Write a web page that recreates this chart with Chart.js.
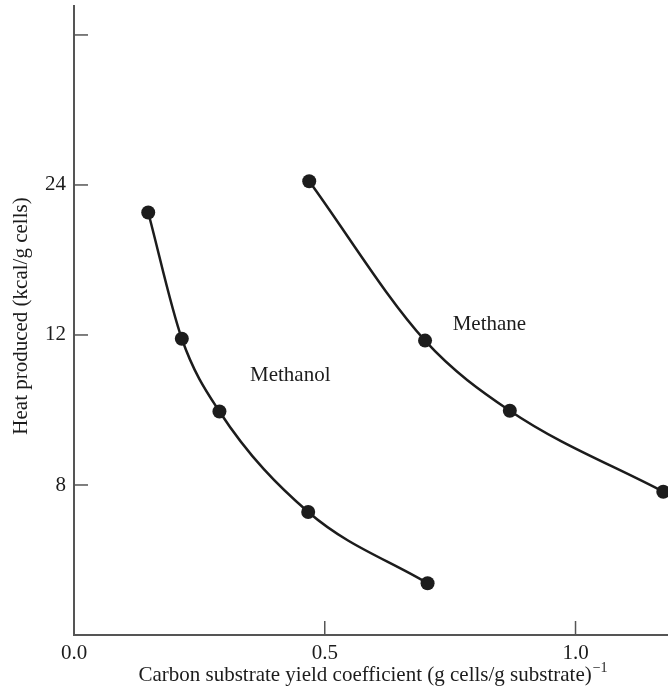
<!DOCTYPE html>
<html lang="en">
<head>
<meta charset="utf-8" />
<title>Heat produced vs carbon substrate yield coefficient</title>
<script src="https://cdn.jsdelivr.net/npm/chart.js@4.4.1/dist/chart.umd.min.js"></script>
<style>
    html, body { margin: 0; padding: 0; background: #fff; }
    #wrap { width: 668px; height: 696px; }
</style>
</head>
<body>
<div id="wrap"><canvas id="chart" width="668" height="696"></canvas></div>
<script>
    // values
    const methanolYield = [0.148, 0.215, 0.290, 0.467, 0.705];
    const methanolHeat = [21.8, 11.9, 9.96, 7.28, 5.38];
    const methaneYield = [0.469, 0.700, 0.869, 1.175];
    const methaneHeat = [24.3, 11.85, 9.98, 7.82];

    // the y axis is not linear: 8, 12 and 24 sit at equal steps
    const yTickValues = [8, 12, 24];
    const yTickLabels = ['8', '12', '24'];
    const xTickValues = [0, 0.5, 1.0];
    const xTickLabels = ['0.0', '0.5', '1.0'];

    const FONT = '"Liberation Serif", "Times New Roman", serif';
    const INK = '#1c1c1c';
    const AXIS = '#555555';

    // heat (kcal/g) -> position on the drawn axis (8 -> 1, 12 -> 2, 24 -> 3)
    function heatToPos(v) {
        const n = yTickValues.length;
        if (v <= yTickValues[0]) {
            return 1 + (v - yTickValues[0]) / (yTickValues[1] - yTickValues[0]);
        }
        for (let i = 0; i < n - 1; i++) {
            if (v <= yTickValues[i + 1]) {
                return 1 + i + (v - yTickValues[i]) / (yTickValues[i + 1] - yTickValues[i]);
            }
        }
        return n + (v - yTickValues[n - 1]) / (yTickValues[n - 1] - yTickValues[n - 2]);
    }

    const toPoints = (xs, ys) => xs.map((x, i) => ({ x: x, y: heatToPos(ys[i]) }));

    const labels = [
        { text: 'Methanol', x: 0.351, heat: 10.77 },
        { text: 'Methane', x: 0.755, heat: 12.4 }
    ];

    // drop the extra room chart.js keeps for edge tick labels
    function noPadding(s) {
        s.paddingTop = 0;
        s.paddingBottom = 0;
        s.paddingLeft = 0;
        s.paddingRight = 0;
    }

    const figurePlugin = {
        id: 'figureBits',
        afterDraw(chart) {
            const ctx = chart.ctx;
            const xs = chart.scales.x, ys = chart.scales.y;
            const area = chart.chartArea;
            ctx.save();

            // inward tick marks
            ctx.strokeStyle = AXIS;
            ctx.lineWidth = 1.5;
            ys.ticks.forEach(t => {
                if (t.value <= 0) return;
                const py = ys.getPixelForValue(t.value);
                ctx.beginPath();
                ctx.moveTo(area.left, py);
                ctx.lineTo(area.left + 14, py);
                ctx.stroke();
            });
            xs.ticks.forEach(t => {
                if (t.value <= 0) return;
                const px = xs.getPixelForValue(t.value);
                ctx.beginPath();
                ctx.moveTo(px, area.bottom);
                ctx.lineTo(px, area.bottom - 14);
                ctx.stroke();
            });

            // curve labels
            ctx.fillStyle = INK;
            ctx.font = '21px ' + FONT;
            ctx.textAlign = 'left';
            ctx.textBaseline = 'alphabetic';
            labels.forEach(l => {
                ctx.fillText(l.text, xs.getPixelForValue(l.x), ys.getPixelForValue(heatToPos(l.heat)));
            });

            // x axis title with superscript
            const main = 'Carbon substrate yield coefficient (g cells/g substrate)';
            const sup = '\u22121';
            ctx.font = '21px ' + FONT;
            const wMain = ctx.measureText(main).width;
            ctx.font = '14px ' + FONT;
            const wSup = ctx.measureText(sup).width;
            const cx = (area.left + area.right) / 2 + 2;
            const startX = cx - (wMain + wSup + 1) / 2;
            ctx.font = '21px ' + FONT;
            ctx.fillText(main, startX, 681);
            ctx.font = '14px ' + FONT;
            ctx.fillText(sup, startX + wMain + 1, 672);

            // y axis title
            ctx.font = '21px ' + FONT;
            ctx.translate(27, 316);
            ctx.rotate(-Math.PI / 2);
            ctx.textAlign = 'center';
            ctx.fillText('Heat produced (kcal/g cells)', 0, 0);

            ctx.restore();
        }
    };

    const dotStyle = {
        borderColor: INK,
        backgroundColor: INK,
        borderWidth: 2.5,
        pointRadius: 7,
        pointHoverRadius: 7,
        pointBackgroundColor: INK,
        pointBorderColor: INK,
        pointBorderWidth: 0,
        showLine: true,
        cubicInterpolationMode: 'monotone',
        clip: false,
        fill: false
    };

    new Chart(document.getElementById('chart'), {
        type: 'scatter',
        data: {
            datasets: [
                Object.assign({ label: 'Methanol', data: toPoints(methanolYield, methanolHeat) }, dotStyle),
                Object.assign({ label: 'Methane', data: toPoints(methaneYield, methaneHeat) }, dotStyle)
            ]
        },
        options: {
            responsive: false,
            animation: false,
            devicePixelRatio: 1,
            layout: { autoPadding: false, padding: { top: 6, right: 0, left: 0, bottom: 0 } },
            plugins: {
                legend: { display: false },
                tooltip: { enabled: false }
            },
            scales: {
                x: {
                    type: 'linear',
                    min: 0,
                    max: 1.1844,
                    grid: { display: false, drawTicks: false },
                    border: { display: true, color: AXIS, width: 2 },
                    afterBuildTicks: s => { s.ticks = xTickValues.map(v => ({ value: v })); },
                    afterFit: s => { s.height = 61; noPadding(s); },
                    ticks: {
                        padding: 6,
                        color: INK,
                        font: { family: FONT, size: 21 },
                        maxRotation: 0,
                        callback: v => xTickLabels[xTickValues.indexOf(v)]
                    }
                },
                y: {
                    type: 'linear',
                    min: 0,
                    max: 4.193,
                    grid: { display: false, drawTicks: false },
                    border: { display: true, color: AXIS, width: 2 },
                    afterBuildTicks: s => { s.ticks = [1, 2, 3, 4].map(v => ({ value: v })); },
                    afterFit: s => { s.width = 74; noPadding(s); },
                    ticks: {
                        padding: 8,
                        color: INK,
                        font: { family: FONT, size: 21 },
                        callback: v => yTickLabels[v - 1] || ''
                    }
                }
            }
        },
        plugins: [figurePlugin]
    });
</script>
</body>
</html>
